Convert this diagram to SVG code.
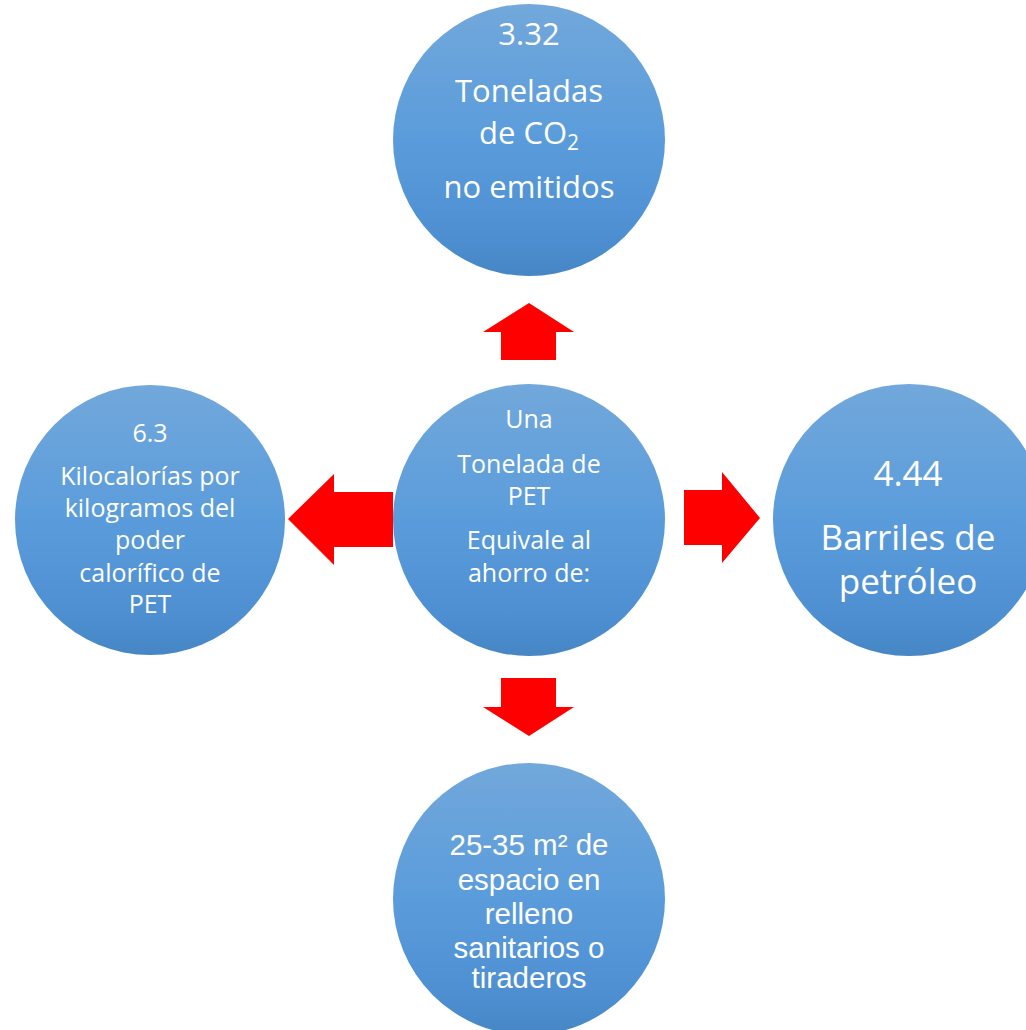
<svg xmlns="http://www.w3.org/2000/svg" width="1026" height="1030" viewBox="0 0 1026 1030">
<defs>
<linearGradient id="g" x1="0" y1="0" x2="0" y2="1">
<stop offset="0" stop-color="#72a8db"/>
<stop offset="0.5" stop-color="#5a9cdb"/>
<stop offset="0.85" stop-color="#4d8fd1"/>
<stop offset="1" stop-color="#4686c5"/>
</linearGradient>
<style>
.c{fill:url(#g)}
.a{fill:#ff0000}
.t{fill:#ffffff;text-anchor:middle;font-family:"Open Sans","Noto Sans",sans-serif}
.ar{fill:#ffffff;text-anchor:middle;font-family:"Liberation Sans",Arial,sans-serif}
</style>
</defs>
<rect width="1026" height="1030" fill="#ffffff"/>
<g id="connectors">
<polygon class="a" points="529,303 574,332 556,332 556,360 501,360 501,332 483,332"/>
<polygon class="a" points="529,736 574,707 556,707 556,678 501,678 501,707 483,707"/>
<polygon class="a" points="288,519 334,474 334,492 393,492 393,547 334,547 334,565"/>
<polygon class="a" points="760,518 722,472 722,490 684,490 684,545 722,545 722,563"/>
</g>
<g id="node-top">
<circle class="c" cx="529" cy="140" r="136"/>
<text class="t" font-size="31" x="529" y="45">3.32</text>
<text class="t" font-size="31" x="529" y="102">Toneladas</text>
<text class="t" font-size="31" x="529" y="144">de CO<tspan font-size="21" dy="6">2</tspan></text>
<text class="t" font-size="31" x="529" y="198">no emitidos</text>
</g>
<g id="node-center">
<circle class="c" cx="529" cy="520" r="136"/>
<text class="t" font-size="25" x="529" y="428">Una</text>
<text class="t" font-size="25" x="529" y="473">Tonelada de</text>
<text class="t" font-size="25" x="529" y="505">PET</text>
<text class="t" font-size="25" x="529" y="549">Equivale al</text>
<text class="t" font-size="25" x="529" y="582">ahorro de:</text>
</g>
<g id="node-left">
<circle class="c" cx="150" cy="520" r="135"/>
<text class="t" font-size="25" x="150" y="442">6.3</text>
<text class="t" font-size="25" x="150" y="485">Kilocalorías por</text>
<text class="t" font-size="25" x="150" y="517">kilogramos del</text>
<text class="t" font-size="25" x="150" y="549">poder</text>
<text class="t" font-size="25" x="150" y="582">calorífico de</text>
<text class="t" font-size="25" x="150" y="613">PET</text>
</g>
<g id="node-right">
<circle class="c" cx="909" cy="520" r="136"/>
<text class="t" font-size="35" x="908" y="486">4.44</text>
<text class="t" font-size="35" x="908" y="550">Barriles de</text>
<text class="t" font-size="35" x="908" y="594">petróleo</text>
</g>
<g id="node-bottom">
<circle class="c" cx="529" cy="899" r="136"/>
<text class="ar" font-size="29.5" x="529" y="855">25-35 m² de</text>
<text class="ar" font-size="29.5" x="529" y="890">espacio en</text>
<text class="ar" font-size="29.5" x="529" y="924">relleno</text>
<text class="ar" font-size="29.5" x="529" y="958">sanitarios o</text>
<text class="ar" font-size="29.5" x="529" y="988">tiraderos</text>
</g>
</svg>
